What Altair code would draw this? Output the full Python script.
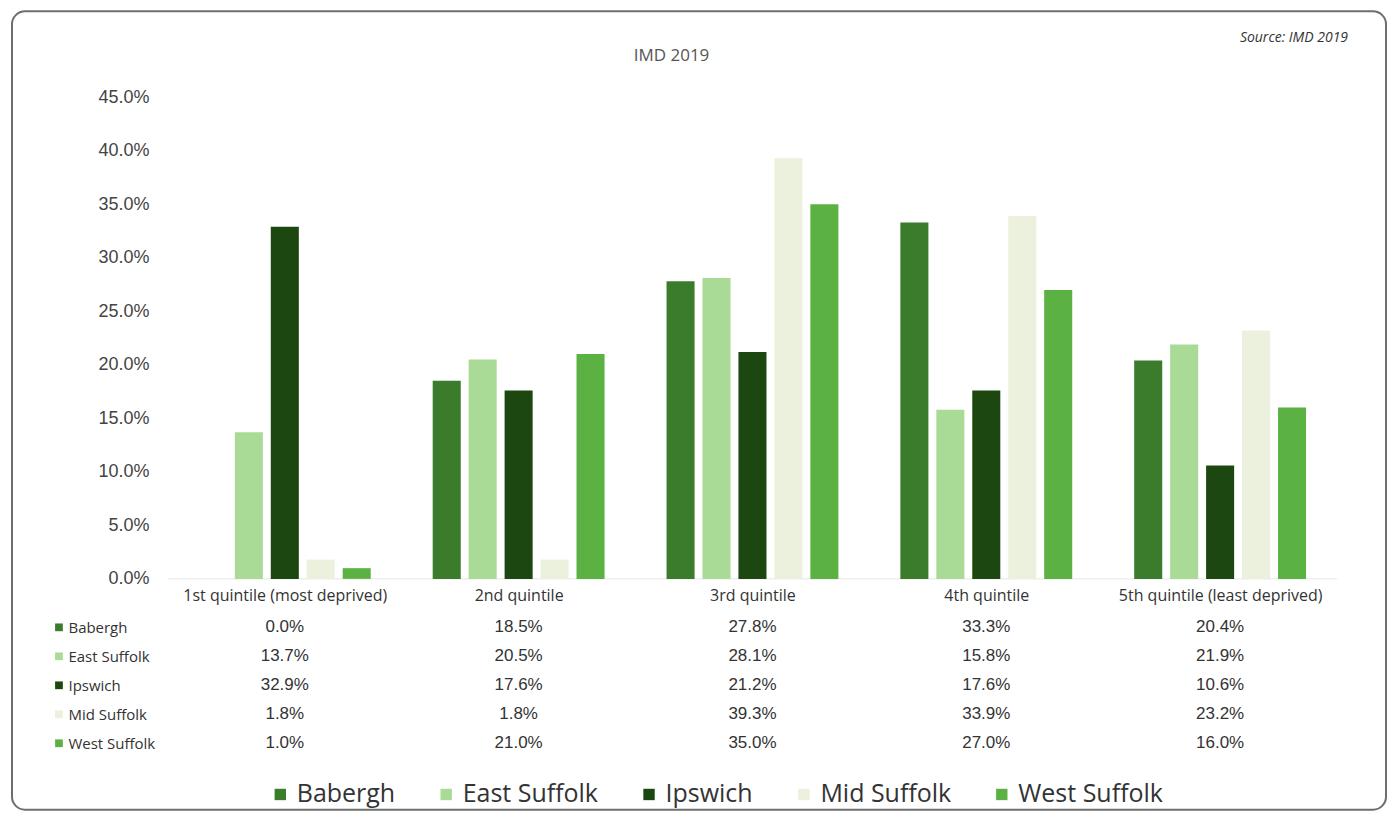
import altair as alt
import pandas as pd

# ---------------- data ----------------
quintiles = [
    "1st quintile (most deprived)",
    "2nd quintile",
    "3rd quintile",
    "4th quintile",
    "5th quintile (least deprived)",
]
districts = ["Babergh", "East Suffolk", "Ipswich", "Mid Suffolk", "West Suffolk"]
babergh = [0.0, 18.5, 27.8, 33.3, 20.4]
east_suffolk = [13.7, 20.5, 28.1, 15.8, 21.9]
ipswich = [32.9, 17.6, 21.2, 17.6, 10.6]
mid_suffolk = [1.8, 1.8, 39.3, 33.9, 23.2]
west_suffolk = [1.0, 21.0, 35.0, 27.0, 16.0]
y_ticks = [0, 5, 10, 15, 20, 25, 30, 35, 40, 45]
colors = ["#3b7b2c", "#a9db96", "#1d4711", "#ebf1dd", "#5bb243"]

series = [babergh, east_suffolk, ipswich, mid_suffolk, west_suffolk]
rows = []
for d, vals in zip(districts, series):
    for q, v in zip(quintiles, vals):
        rows.append({"district": d, "quintile": q, "value": v, "label": f"{v:.1f}%"})
df = pd.DataFrame(rows)

W = 1170
H = 482
color_scale = alt.Scale(domain=districts, range=colors)

# ---------------- bar chart ----------------
one = pd.DataFrame({"a": [0]})

frame = alt.Chart(one).mark_rect(
    cornerRadius=13, fill=None, stroke="#6e6e6e", strokeWidth=2
).encode(
    x=alt.value(-156), x2=alt.value(1219), y=alt.value(-86), y2=alt.value(713)
)

baseline = alt.Chart(one).mark_rule(color="#e6e6e6", strokeWidth=1).encode(
    y=alt.datum(0)
)

bars = alt.Chart(df).mark_bar().encode(
    x=alt.X(
        "quintile:N",
        sort=quintiles,
        scale=alt.Scale(paddingInner=0.265, paddingOuter=0.1325),
        axis=None,
    ),
    xOffset=alt.XOffset(
        "district:N", sort=districts, scale=alt.Scale(paddingInner=0.22, paddingOuter=0)
    ),
    y=alt.Y(
        "value:Q",
        scale=alt.Scale(domain=[0, 45], nice=False),
        axis=alt.Axis(
            values=y_ticks,
            labelExpr="format(datum.value, '.1f') + '%'",
            grid=False,
            ticks=False,
            domain=False,
            labelFont="Liberation Sans",
            labelFontSize=18,
            labelColor="#444444",
            labelPadding=19,
            title=None,
        ),
    ),
    color=alt.Color(
        "district:N",
        sort=districts,
        scale=color_scale,
        legend=alt.Legend(
            orient="none",
            direction="horizontal",
            legendX=100,
            legendY=685,
            title=None,
            symbolType="square",
            symbolSize=130,
            symbolStrokeWidth=0,
            labelFont="Open Sans",
            labelFontSize=25,
            labelColor="#333333",
            labelOffset=4,
            columnPadding=38,
            padding=0,
        ),
    ),
)

title_text = alt.Chart(pd.DataFrame({"t": ["IMD 2019"]})).mark_text(
    font="Open Sans", fontSize=17, color="#555555", align="center", baseline="middle"
).encode(x=alt.value(504), y=alt.value(-41), text="t:N")

source_text = alt.Chart(pd.DataFrame({"t": ["Source: IMD 2019"]})).mark_text(
    font="Open Sans", fontSize=14, fontStyle="italic", color="#333333",
    align="right", baseline="middle"
).encode(x=alt.value(1181), y=alt.value(-59), text="t:N")

top = alt.layer(frame, baseline, bars, title_text, source_text).properties(
    width=W, height=H
)

# ---------------- data table ----------------
table_text = alt.Chart(df).mark_text(
    font="Liberation Sans", fontSize=17, color="#333333"
).encode(
    x=alt.X(
        "quintile:N",
        sort=quintiles,
        axis=alt.Axis(
            orient="top",
            title=None,
            ticks=False,
            domain=False,
            labelAngle=0,
            labelLimit=0,
            labelFont="Open Sans",
            labelFontSize=16,
            labelColor="#333333",
            labelPadding=9,
        ),
    ),
    y=alt.Y(
        "district:N",
        sort=districts,
        axis=alt.Axis(
            title=None,
            ticks=False,
            domain=False,
            labelAlign="left",
            labelPadding=100,
            labelFont="Open Sans",
            labelFontSize=15,
            labelColor="#333333",
        ),
    ),
    text="label:N",
)

row_keys = alt.Chart(df).transform_filter(
    alt.datum.quintile == quintiles[0]
).mark_square(size=60, opacity=1).encode(
    x=alt.value(-109),
    y=alt.Y("district:N", sort=districts),
    color=alt.Color("district:N", sort=districts, scale=color_scale),
)

table = alt.layer(table_text, row_keys).properties(width=W, height=145)

chart = (
    alt.vconcat(top, table, spacing=34, bounds="flush")
    .properties(padding={"left": 3, "top": 2, "right": 0, "bottom": 0}, background="white")
    .configure_view(stroke=None)
)

chart.save("out.html", embed_options={"renderer": "svg", "actions": False})
